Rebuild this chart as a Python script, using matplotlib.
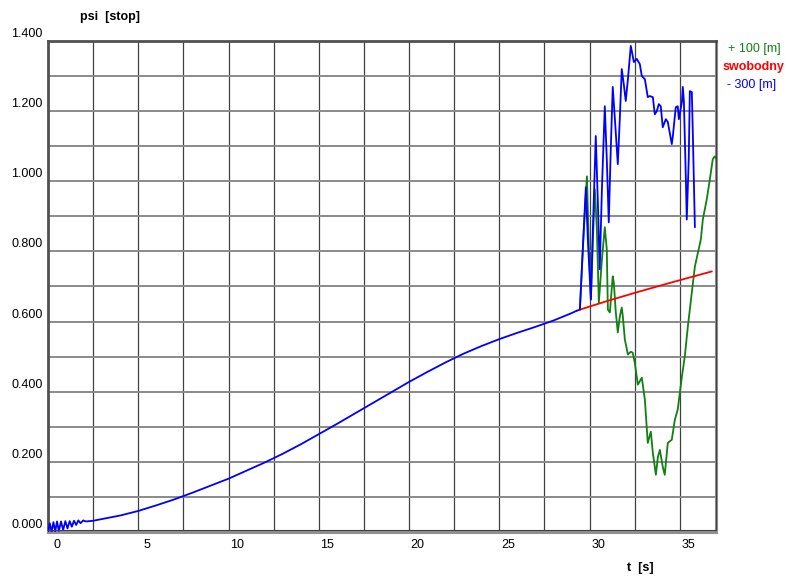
import numpy as np
import matplotlib
matplotlib.use("Agg")
import matplotlib.pyplot as plt
import matplotlib.transforms as mtransforms
from matplotlib.ticker import MultipleLocator, FixedLocator

plt.rcParams['font.family'] = ['Liberation Sans', 'DejaVu Sans']

# common smooth part (blue), t in seconds
t_common = [0.0, 0.1, 0.2, 0.3, 0.4, 0.5, 0.6, 0.72, 0.84, 0.96, 1.08, 1.2, 1.32,
            1.44, 1.56, 1.68, 1.8, 1.95, 2.1, 2.5, 3.0, 4.0, 5.0, 6.0, 7.0, 8.0,
            9.0, 10.0, 11.0, 12.0, 13.0, 14.0, 15.0, 16.0, 17.0, 18.0, 19.0, 20.0,
            21.0, 22.0, 23.0, 24.0, 25.0, 26.0, 27.0, 28.0, 29.0, 29.29]
psi_common = [0.0, 0.025, 0.0, 0.028, 0.002, 0.03, 0.003, 0.03, 0.006, 0.031, 0.01,
              0.031, 0.015, 0.032, 0.02, 0.033, 0.025, 0.033, 0.03, 0.032, 0.037,
              0.047, 0.06, 0.076, 0.093, 0.112, 0.132, 0.152, 0.175, 0.198, 0.223,
              0.25, 0.279, 0.308, 0.338, 0.368, 0.398, 0.428, 0.456, 0.483, 0.508,
              0.53, 0.55, 0.568, 0.585, 0.603, 0.624, 0.631]

# "- 300 [m]" (blue) after the split
t_minus300 = [29.29, 29.46, 29.62, 29.79, 29.90, 30.07, 30.18, 30.34, 30.45, 30.56,
              30.68, 30.84, 30.95, 31.06, 31.17, 31.28, 31.40, 31.56, 31.67, 31.78,
              31.89, 32.00, 32.12, 32.28, 32.45, 32.61, 32.78, 32.89, 33.06, 33.22,
              33.33, 33.50, 33.61, 33.72, 33.83, 33.94, 34.05, 34.22, 34.33, 34.55,
              34.61, 34.77, 34.88, 34.94, 35.11, 35.16, 35.22, 35.33, 35.38, 35.49,
              35.55, 35.66, 35.71, 35.83]
psi_minus300 = [0.631, 0.634, 0.806, 0.983, 0.834, 0.663, 0.863, 1.129, 0.949, 0.749,
                0.977, 1.214, 1.063, 0.883, 1.091, 1.269, 1.177, 1.049, 1.177, 1.320,
                1.277, 1.229, 1.291, 1.386, 1.340, 1.349, 1.334, 1.300, 1.291, 1.240,
                1.243, 1.240, 1.191, 1.200, 1.220, 1.214, 1.154, 1.177, 1.169, 1.106,
                1.129, 1.211, 1.214, 1.177, 1.226, 1.269, 1.229, 1.006, 0.891, 1.063,
                1.257, 1.254, 1.149, 0.869]

# "+ 100 [m]" (green)
t_plus100 = [29.46, 29.68, 29.85, 29.96, 30.07, 30.18, 30.29, 30.40, 30.51, 30.68,
             30.84, 30.95, 31.01, 31.12, 31.28, 31.34, 31.45, 31.56, 31.67, 31.78,
             31.84, 31.95, 32.12, 32.28, 32.39, 32.50, 32.67, 32.89, 33.06, 33.22,
             33.39, 33.50, 33.67, 33.78, 33.89, 34.05, 34.16, 34.33, 34.55, 34.72,
             34.88, 35.11, 35.27, 35.44, 35.66, 35.83, 36.00, 36.16, 36.27, 36.49,
             36.66, 36.82, 36.93, 37.04]
psi_plus100 = [0.634, 0.863, 1.014, 0.806, 0.663, 0.834, 0.977, 0.863, 0.654, 0.777,
               0.869, 0.806, 0.634, 0.626, 0.729, 0.711, 0.626, 0.569, 0.614, 0.640,
               0.614, 0.549, 0.506, 0.514, 0.511, 0.483, 0.420, 0.440, 0.377, 0.254,
               0.286, 0.226, 0.163, 0.214, 0.234, 0.186, 0.163, 0.254, 0.263, 0.320,
               0.349, 0.443, 0.500, 0.586, 0.683, 0.757, 0.797, 0.834, 0.891, 0.949,
               1.006, 1.063, 1.071, 1.063]

# "swobodny" (red)
t_free = [29.46, 31.0, 32.78, 34.5, 36.77]
psi_free = [0.634, 0.659, 0.686, 0.711, 0.743]

x_ticks = [0, 5, 10, 15, 20, 25, 30, 35]
y_ticks = [0.0, 0.2, 0.4, 0.6, 0.8, 1.0, 1.2, 1.4]

blue = '#0000ff'
green = '#108010'
red = '#ff0000'

fig = plt.figure(figsize=(7.87, 5.79), dpi=100)
ax = fig.add_axes([0.061, 0.0812, 0.8488, 0.848])

line_kw = dict(lw=1.3, solid_joinstyle='round', solid_capstyle='round')
ax.plot(t_plus100, psi_plus100, color=green, zorder=3, **line_kw)
ax.plot(t_free, psi_free, color=red, zorder=4, **line_kw)
ax.plot(t_common, psi_common, color=blue, zorder=5, **line_kw)
ax.plot(t_minus300, psi_minus300, color=blue, zorder=5, **line_kw)

ax.set_xlim(0, 37)
ax.set_ylim(0, 1.4)

# grid every 2.5 s / 0.1, labels every 5 s / 0.2
ax.xaxis.set_major_locator(FixedLocator(x_ticks))
ax.yaxis.set_major_locator(FixedLocator(y_ticks))
ax.set_xticklabels([str(v) for v in x_ticks])
ax.set_yticklabels([f"{v:.3f}" for v in y_ticks])
ax.grid(False)
for v in np.arange(2.5, 37, 2.5):
    ax.axvline(v, color='#404040', lw=0.9, zorder=1)
for v in np.arange(0.1, 1.35, 0.1):
    ax.axhline(v, color='#8a8a8a', lw=1.4, zorder=1)

ax.tick_params(axis='both', which='both', length=0, labelsize=9, colors='black')
ax.tick_params(axis='y', pad=4)
ax.tick_params(axis='x', pad=5)

# labels sit shifted off their grid positions, as in the original
dx = mtransforms.ScaledTranslation(0.085, 0, fig.dpi_scale_trans)
dy = mtransforms.ScaledTranslation(0, 0.085, fig.dpi_scale_trans)
for lab in ax.get_xticklabels():
    lab.set_transform(lab.get_transform() + dx)
for lab in ax.get_yticklabels():
    lab.set_transform(lab.get_transform() + dy)

for side in ['left', 'top']:
    ax.spines[side].set_color('#505050')
    ax.spines[side].set_linewidth(2.0)
for side in ['right', 'bottom']:
    ax.spines[side].set_color('#909090')
    ax.spines[side].set_linewidth(2.2)
# inner dark edge on bottom/right
ax.plot([0, 1, 1], [0.004, 0.004, 1], transform=ax.transAxes, color='#404040',
        lw=0.8, clip_on=False, zorder=6)

fig.text(110 / 787, 1 - 17 / 579, 'psi  [stop]', ha='center', va='center',
         fontsize=9, fontweight='bold')
fig.text(640 / 787, 1 - 568 / 579, 't  [s]', ha='center', va='center',
         fontsize=9, fontweight='bold')

fig.text(754 / 787, 1 - 49 / 579, '+ 100 [m]', color=green, ha='center',
         va='center', fontsize=9)
fig.text(753 / 787, 1 - 67 / 579, 'swobodny', color=red, ha='center',
         va='center', fontsize=9, fontweight='bold')
fig.text(752 / 787, 1 - 85 / 579, '- 300 [m]', color=blue, ha='center',
         va='center', fontsize=9)

fig.savefig('out.png', dpi=100)
